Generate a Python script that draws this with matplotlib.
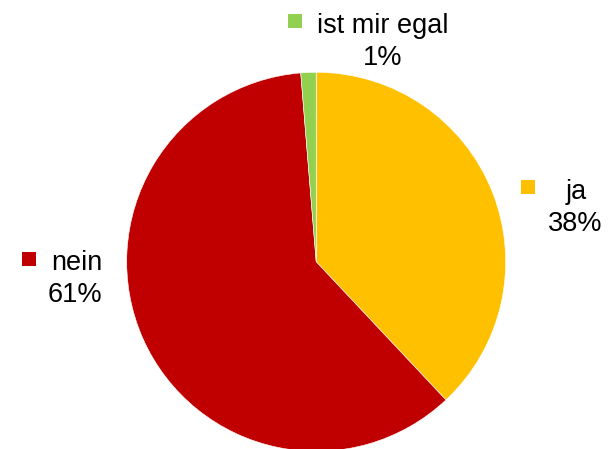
import matplotlib
matplotlib.use("Agg")
import matplotlib.pyplot as plt
from matplotlib.patches import Rectangle

categories = ["ja", "nein", "ist mir egal"]
values = [38.0, 60.7, 1.3]
colors = ["#FFC000", "#C00000", "#92D050"]

W, H = 612, 449
fig = plt.figure(figsize=(W / 100, H / 100), dpi=100)
ax = fig.add_axes([0, 0, 1, 1])
ax.set_xlim(0, W)
ax.set_ylim(0, H)
ax.set_aspect("equal")
ax.axis("off")

cx, cy, r = 316.2, H - 261.8, 189.5
ax.pie(values, colors=colors, startangle=90, counterclock=False,
       center=(cx, cy), radius=r, frame=True,
       wedgeprops=dict(linewidth=0.4, edgecolor="white"))
ax.set_xlim(0, W)
ax.set_ylim(0, H)
ax.axis("off")

fs = 19.5
font = ["Liberation Sans", "DejaVu Sans"]
pct = [f"{round(v)}%" for v in values]

layout = {
    "ja": dict(sq=(521, 180), name=(576, 199), pct=(575, 231)),
    "nein": dict(sq=(22, 252), name=(77, 269.5), pct=(75, 302.5)),
    "ist mir egal": dict(sq=(288, 14), name=(383, 33), pct=(383, 65)),
}
for cat, col, p in zip(categories, colors, pct):
    L = layout[cat]
    sx, sy = L["sq"]
    ax.add_patch(Rectangle((sx, H - sy - 14), 14, 14, facecolor=col, edgecolor="none"))
    ax.text(L["name"][0], H - L["name"][1], cat, ha="center", va="baseline",
            fontsize=fs, family=font, color="#000000")
    ax.text(L["pct"][0], H - L["pct"][1], p, ha="center", va="baseline",
            fontsize=fs, family=font, color="#000000")

fig.savefig("out.png", dpi=100)
